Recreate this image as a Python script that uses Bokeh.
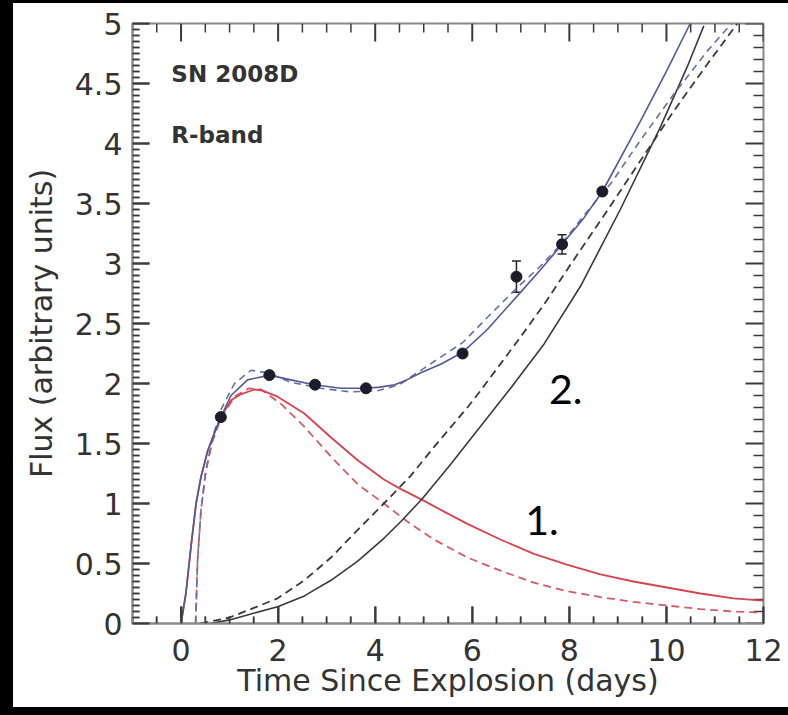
from bokeh.plotting import figure
from bokeh.models import (FixedTicker, Range1d, Label, Whisker,
                          ColumnDataSource, Spacer, TeeHead)
from bokeh.layouts import row, column
from bokeh.embed import file_html
from bokeh.resources import INLINE

# ---------------- data ----------------
obs_t = [0.82, 1.82, 2.76, 3.81, 5.80, 6.91, 7.85, 8.68]
obs_flux = [1.72, 2.07, 1.99, 1.96, 2.25, 2.89, 3.16, 3.60]
obs_err = [0.02, 0.02, 0.02, 0.02, 0.02, 0.13, 0.08, 0.02]

# component 1 (cooling envelope), solid and dashed models
cool_solid_t = [0.0, 0.10, 0.21, 0.31, 0.41, 0.55, 0.69, 0.82, 1.03, 1.23, 1.51, 1.68,
                1.99, 2.54, 3.09, 3.64, 4.18, 4.53, 4.97, 5.43, 5.90, 6.58, 7.27, 7.95,
                8.64, 9.32, 10.01, 10.70, 11.38, 12.0]
cool_solid_f = [0.0, 0.25, 0.66, 1.00, 1.22, 1.44, 1.59, 1.72, 1.86, 1.91, 1.95, 1.94,
                1.89, 1.75, 1.55, 1.36, 1.20, 1.12, 1.03, 0.93, 0.83, 0.70, 0.58, 0.49,
                0.41, 0.35, 0.30, 0.25, 0.21, 0.19]
cool_dash_t = [0.30, 0.34, 0.41, 0.51, 0.65, 0.82, 1.10, 1.40, 1.65, 2.06, 2.54, 3.09,
               3.64, 4.18, 4.53, 4.73, 5.21, 5.90, 6.58, 7.27, 7.95, 8.64, 9.32, 10.01,
               10.70, 11.38, 12.0]
cool_dash_f = [0.0, 0.52, 0.94, 1.27, 1.52, 1.71, 1.89, 1.96, 1.95, 1.83, 1.64, 1.39,
               1.16, 1.00, 0.89, 0.83, 0.70, 0.55, 0.44, 0.34, 0.27, 0.22, 0.18, 0.15,
               0.12, 0.10, 0.09]

# component 2 (radioactive heating), solid and dashed models
ni_solid_t = [0.60, 1.00, 1.44, 1.99, 2.54, 3.09, 3.64, 4.18, 4.53, 4.97, 5.56, 6.24,
              6.79, 7.48, 8.23, 9.05, 9.88, 10.43, 10.77]
ni_solid_f = [0.0, 0.03, 0.08, 0.14, 0.23, 0.36, 0.52, 0.71, 0.85, 1.04, 1.33, 1.68,
              1.96, 2.33, 2.81, 3.45, 4.14, 4.64, 4.98]
ni_dash_t = [0.40, 1.00, 1.44, 1.99, 2.54, 3.09, 3.64, 4.18, 4.73, 5.21, 5.90, 6.17,
             7.00, 7.48, 8.09, 8.78, 9.47, 10.15, 10.84, 11.46]
ni_dash_f = [0.0, 0.05, 0.12, 0.21, 0.36, 0.55, 0.78, 1.00, 1.23, 1.47, 1.80, 1.94,
             2.39, 2.66, 3.03, 3.44, 3.86, 4.27, 4.66, 5.0]

# total model, solid and dashed
tot_solid_t = [0.0, 0.10, 0.21, 0.31, 0.41, 0.55, 0.69, 0.82, 1.03, 1.37, 1.82, 2.26,
               2.74, 3.29, 3.81, 4.10, 4.40, 4.65, 4.94, 5.35, 5.80, 6.31, 6.93, 7.41,
               7.85, 8.30, 8.68, 9.47, 10.01, 10.49]
tot_solid_f = [0.0, 0.25, 0.66, 1.00, 1.22, 1.44, 1.59, 1.72, 1.90, 2.03, 2.07, 2.03,
               1.99, 1.96, 1.96, 1.97, 1.99, 2.03, 2.09, 2.16, 2.26, 2.45, 2.73, 2.95,
               3.16, 3.38, 3.60, 4.19, 4.61, 5.0]
tot_dash_t = [0.30, 0.34, 0.41, 0.51, 0.65, 0.82, 1.10, 1.44, 1.78, 2.26, 2.88, 3.50,
              4.05, 4.50, 4.94, 5.35, 5.80, 6.31, 6.93, 7.41, 7.85, 8.30, 8.88, 9.47,
              10.15, 10.84, 11.34]
tot_dash_f = [0.0, 0.52, 0.94, 1.27, 1.55, 1.78, 2.00, 2.11, 2.09, 2.01, 1.96, 1.93,
              1.94, 1.99, 2.11, 2.22, 2.34, 2.55, 2.80, 2.98, 3.17, 3.40, 3.68, 4.03,
              4.41, 4.77, 5.0]

x_ticks = [0, 2, 4, 6, 8, 10, 12]
y_ticks = [0, 0.5, 1, 1.5, 2, 2.5, 3, 3.5, 4, 4.5, 5]
y_tick_labels = ["0", "0.5", "1", "1.5", "2", "2.5", "3", "3.5", "4", "4.5", "5"]

# ---------------- styling ----------------
FONT = "DejaVu Sans"
AX_COL = "#8a8a8a"
TICK_COL = "#3a3a3a"
TXT_COL = "#333333"
RED = "#d8434d"
RED_D = "#d85a64"
BLK = "#3a3a3a"
BLUE = "#4f5a96"
BLUE_D = "#6470a8"

X0, X1, Y0, Y1 = -1, 12, 0, 5
FRAME_W, FRAME_H = 631, 600
PX_X = FRAME_W / (X1 - X0)   # pixels per x unit
PX_Y = FRAME_H / (Y1 - Y0)   # pixels per y unit

x_minor = [X0 + 0.5 * k for k in range(27) if (X0 + 0.5 * k) not in x_ticks]
y_minor_left = [round(0.05 * k, 2) for k in range(101) if round(0.05 * k, 2) not in y_ticks]
y_minor_right = [round(0.1 * k, 2) for k in range(51) if round(0.1 * k, 2) not in y_ticks]

p = figure(width=775, height=704, x_range=Range1d(X0, X1), y_range=Range1d(Y0, Y1),
           output_backend="svg", toolbar_location=None,
           min_border_left=119, min_border_right=25, min_border_top=20, min_border_bottom=84)
p.grid.visible = False
p.outline_line_color = AX_COL
p.outline_line_width = 2

p.xaxis.ticker = FixedTicker(ticks=x_ticks, minor_ticks=x_minor)
p.yaxis.ticker = FixedTicker(ticks=y_ticks, minor_ticks=y_minor_left)
p.yaxis.major_label_overrides = {float(t): l for t, l in zip(y_ticks, y_tick_labels)}

for ax in (p.xaxis[0], p.yaxis[0]):
    ax.axis_line_color = AX_COL
    ax.axis_line_width = 2
    ax.major_tick_in = 17
    ax.major_tick_out = 0
    ax.minor_tick_in = 7
    ax.minor_tick_out = 0
    ax.major_tick_line_color = TICK_COL
    ax.minor_tick_line_color = TICK_COL
    ax.major_tick_line_width = 2
    ax.minor_tick_line_width = 1.5
    ax.major_label_text_font = FONT
    ax.major_label_text_font_size = "30px"
    ax.major_label_text_color = TXT_COL
    ax.axis_label_text_font = FONT
    ax.axis_label_text_font_size = "30px"
    ax.axis_label_text_font_style = "normal"
    ax.axis_label_text_color = TXT_COL

p.xaxis.axis_label = "Time Since Explosion (days)"
p.yaxis.axis_label = "Flux (arbitrary units)"
p.xaxis.major_label_standoff = 15
p.xaxis.axis_label_standoff = -1
p.yaxis.major_label_standoff = 10
p.yaxis.axis_label_standoff = 13

# ---------------- inward tick marks on all four sides (filled thin bars) ----------------
def xbars(pos, base, length_px, sign, w_px):
    n = len(pos)
    return dict(x=list(pos), y=[base + sign * length_px / 2 / PX_Y] * n,
                w=[w_px / PX_X] * n, h=[length_px / PX_Y] * n)

def ybars(pos, base, length_px, sign, w_px):
    n = len(pos)
    return dict(y=list(pos), x=[base + sign * length_px / 2 / PX_X] * n,
                h=[w_px / PX_Y] * n, w=[length_px / PX_X] * n)

bar_sets = [
    xbars(x_ticks, Y0, 17, 1, 2), xbars(x_minor, Y0, 7, 1, 1.5),
    xbars(x_ticks, Y1, 18, -1, 2), xbars(x_minor, Y1, 9, -1, 1.5),
    ybars(y_ticks, X0, 17, 1, 2), ybars(y_minor_left, X0, 7, 1, 1.5),
    ybars(y_ticks, X1, 18, -1, 2), ybars(y_minor_right, X1, 10, -1, 1.5),
]
for d in bar_sets:
    p.rect(x=d["x"], y=d["y"], width=d["w"], height=d["h"],
           fill_color=TICK_COL, line_color=None)

# ---------------- curves ----------------
p.line(cool_dash_t, cool_dash_f, line_color=RED_D, line_width=1.8, line_dash="8 5")
p.line(cool_solid_t, cool_solid_f, line_color=RED, line_width=1.8)
p.line(ni_dash_t, ni_dash_f, line_color=BLK, line_width=1.8, line_dash="8 5")
p.line(ni_solid_t, ni_solid_f, line_color=BLK, line_width=1.6)
p.line(tot_dash_t, tot_dash_f, line_color=BLUE_D, line_width=1.6, line_dash="7 5")
p.line(tot_solid_t, tot_solid_f, line_color=BLUE, line_width=1.6)

src = ColumnDataSource(dict(t=obs_t, f=obs_flux,
                            lo=[f - e for f, e in zip(obs_flux, obs_err)],
                            hi=[f + e for f, e in zip(obs_flux, obs_err)]))
p.add_layout(Whisker(source=src, base="t", upper="hi", lower="lo", dimension="height",
                     line_color="#222233", line_width=1.5,
                     upper_head=TeeHead(size=9, line_color="#222233", line_width=1.5),
                     lower_head=TeeHead(size=9, line_color="#222233", line_width=1.5)))
p.scatter("t", "f", source=src, size=11, fill_color="#1c1c2a", line_color="#1c1c2a")

# ---------------- annotations ----------------
p.add_layout(Label(x=-0.2, y=4.58, text="SN 2008D", text_font=FONT, text_font_style="bold",
                   text_font_size="23px", text_color=TXT_COL, text_baseline="alphabetic"))
p.add_layout(Label(x=-0.2, y=4.075, text="R-band", text_font=FONT, text_font_style="bold",
                   text_font_size="23px", text_color=TXT_COL, text_baseline="alphabetic"))
p.add_layout(Label(x=7.58, y=1.95, text="2.", text_font="Lato", text_font_size="41px",
                   text_color="black", text_baseline="alphabetic"))
p.add_layout(Label(x=7.09, y=0.86, text="1.", text_font="Lato", text_font_size="41px",
                   text_color="black", text_baseline="alphabetic"))

black = {"background-color": "black"}
layout = row(Spacer(width=13, height=715, styles=black),
             column(Spacer(width=775, height=3, styles=black), p,
                    Spacer(width=775, height=8, styles=black)))

open("out.html", "w").write(file_html(layout, INLINE))
